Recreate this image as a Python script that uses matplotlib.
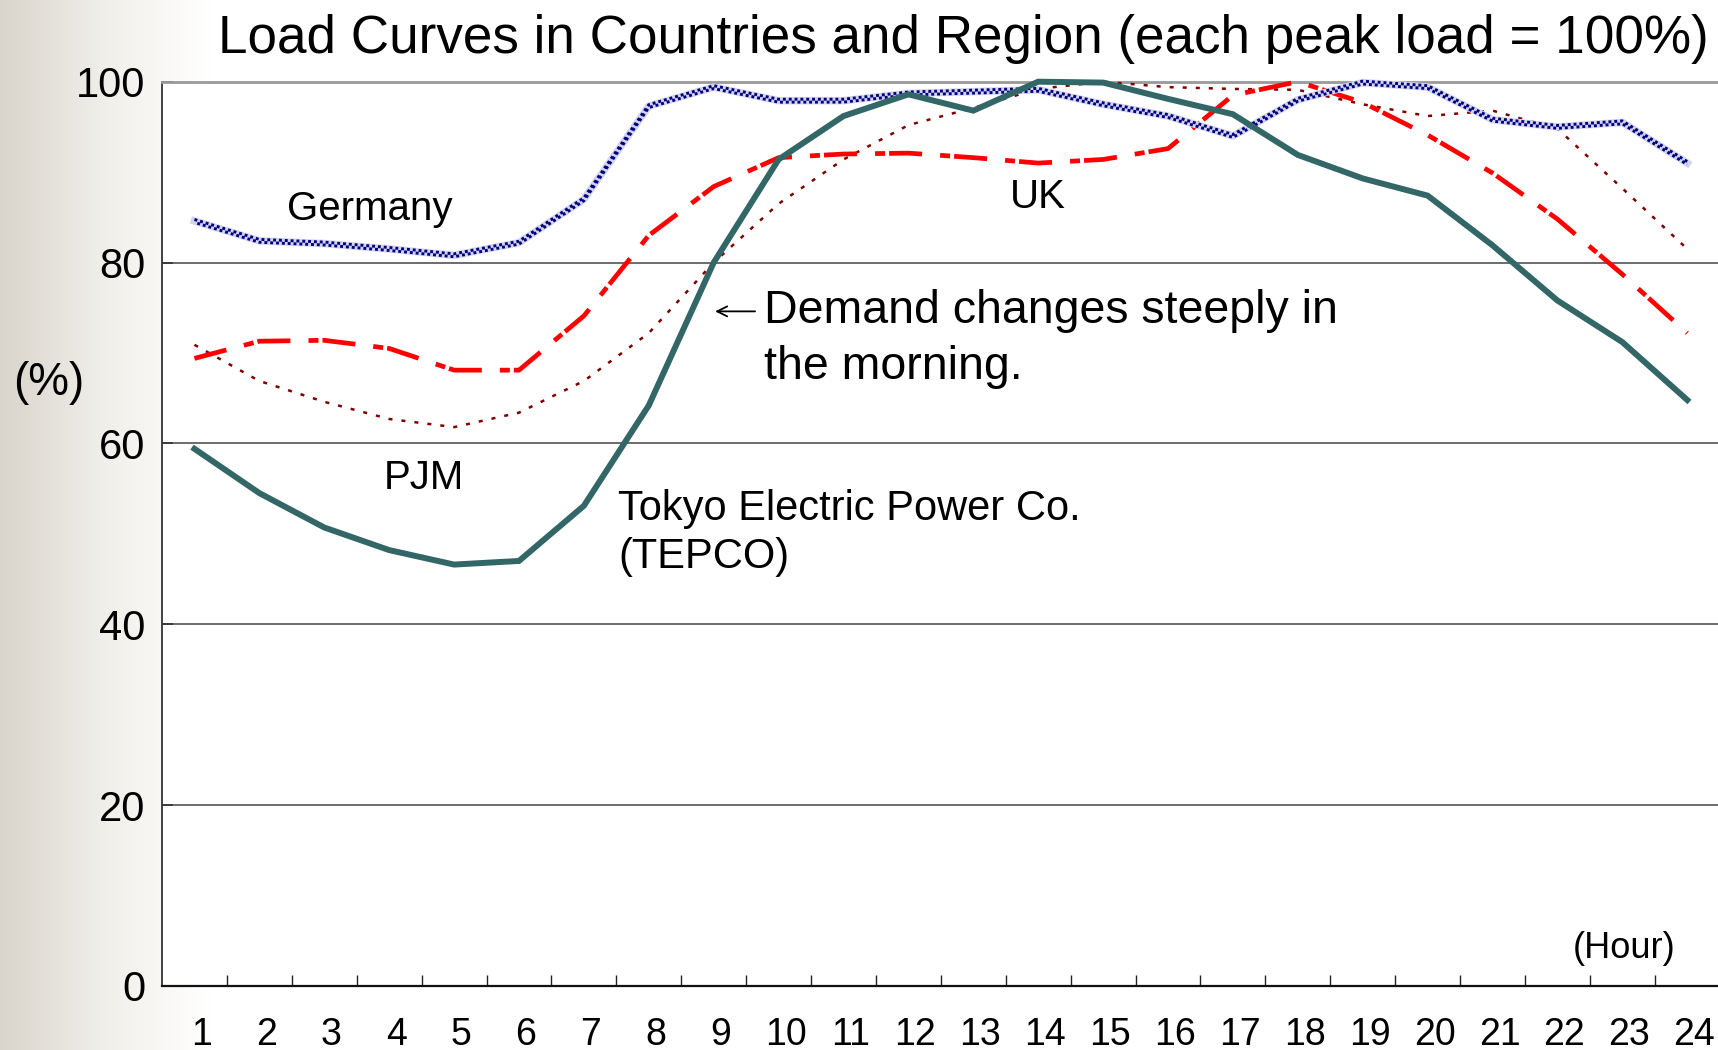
import numpy as np
import matplotlib
matplotlib.use("Agg")
import matplotlib.pyplot as plt
from matplotlib.colors import LinearSegmentedColormap
from matplotlib.transforms import offset_copy, ScaledTranslation

plt.rcParams['font.family'] = ['Liberation Sans', 'DejaVu Sans']
plt.rcParams['lines.scale_dashes'] = False

# data (% of each peak load)
hours = list(range(1, 25))
tepco = [59.4, 54.5, 50.7, 48.2, 46.6, 47.0, 53.1, 64.2, 80.0, 91.4, 96.2, 98.6,
         96.8, 100.0, 99.9, 98.1, 96.4, 91.9, 89.3, 87.4, 81.9, 75.8, 71.2, 64.8]
germany = [84.6, 82.4, 82.1, 81.5, 80.8, 82.2, 87.0, 97.3, 99.4, 97.9, 97.9, 98.7,
           98.9, 99.1, 97.5, 96.2, 94.0, 98.0, 99.9, 99.4, 95.8, 95.0, 95.5, 91.0]
uk = [69.4, 71.3, 71.4, 70.5, 68.1, 68.1, 74.1, 83.0, 88.4, 91.6, 92.0, 92.1,
      91.6, 91.0, 91.4, 92.6, 98.5, 100.0, 97.7, 94.1, 89.9, 84.8, 78.7, 72.2]
pjm = [70.9, 66.9, 64.6, 62.7, 61.8, 63.4, 66.9, 72.2, 80.0, 86.5, 91.4, 95.2,
       97.1, 99.2, 100.0, 99.4, 99.2, 99.1, 97.5, 96.2, 96.8, 94.8, 88.2, 81.5]
y_ticks = [0, 20, 40, 60, 80, 100]

fig = plt.figure(figsize=(17.18, 10.5), dpi=100)

# beige gradient on the left edge of the slide
bg = fig.add_axes([0, 0, 1, 1], zorder=-5)
bg.axis('off')
grad = np.linspace(0, 1, 400).reshape(1, -1)
cmap = LinearSegmentedColormap.from_list('bg', ['#d9d5cc', '#f1efea', '#ffffff'])
bg.imshow(grad, extent=[0, 0.122, 0, 1], aspect='auto', cmap=cmap)
bg.set_xlim(0, 1)
bg.set_ylim(0, 1)

ax = fig.add_axes([0.0943, 0.061, 0.9067, 0.8612])
ax.set_xlim(0.5, 24.5)
ax.set_ylim(0, 100)
ax.set_facecolor('white')

# grid lines
for v in y_ticks[1:-1]:
    ax.axhline(v, color='#444444', lw=1.1, zorder=1)
ax.spines['top'].set_color('#999999')
ax.spines['top'].set_linewidth(2)
ax.spines['right'].set_visible(False)
ax.spines['left'].set_color('#333333')
ax.spines['left'].set_linewidth(1.3)
ax.spines['bottom'].set_color('#111111')
ax.spines['bottom'].set_linewidth(1.6)

# PJM - dotted dark red
ax.plot(hours, pjm, color='#800000', lw=1.8, linestyle=(0, (2.9, 6.5)),
        zorder=3, clip_on=False)
# UK - red dash dot
ax.plot(hours, uk, color='#ff0000', lw=3.4, linestyle=(0, (23.8, 13, 7.2, 2.9)),
        zorder=4, clip_on=False)
# Germany - checkered navy band
ax.plot(hours, germany, color='#d4d4ec', lw=5.4, zorder=5, clip_on=False)
sq = 2.1
for dy, off in [(1.05, 0), (-1.05, sq)]:
    tr = offset_copy(ax.transData, fig=fig, x=0, y=dy, units='points')
    ax.plot(hours, germany, color='#000080', lw=sq, linestyle=(off, (sq, sq)),
            transform=tr, zorder=6, clip_on=False)
# TEPCO - solid teal
ax.plot(hours, tepco, color='#336666', lw=4.3, zorder=7, clip_on=False,
        solid_joinstyle='miter')

# axis ticks
ax.set_yticks(y_ticks)
ax.tick_params(axis='y', direction='in', length=8, width=1.2, color='#333333',
               labelsize=30, pad=12)
ax.set_xticks(hours)
ax.set_xticks(np.arange(1.5, 24, 1), minor=True)
ax.tick_params(axis='x', which='major', length=0, pad=22)
ax.tick_params(axis='x', which='minor', direction='in', length=8, width=1.0,
               color='#222222')
shift = ScaledTranslation(7 / 100, 0, fig.dpi_scale_trans)
for lab in ax.get_xticklabels():
    lab.set_fontfamily(['Liberation Sans Narrow', 'Liberation Sans'])
    lab.set_fontsize(27)
    lab.set_transform(lab.get_transform() + shift)

# text
fig.text(0.5605, 0.963, 'Load Curves in Countries and Region (each peak load = 100%)',
         ha='center', va='center', fontsize=38.2)
fig.text(0.0285, 0.635, '(%)', ha='center', va='center', fontsize=33)
ax.text(3.70, 85.9, 'Germany', ha='center', va='center', fontsize=29)
ax.text(14.0, 87.3, 'UK', ha='center', va='center', fontsize=29)
ax.text(4.54, 56.2, 'PJM', ha='center', va='center', fontsize=29)
ax.text(7.53, 52.7, 'Tokyo Electric Power Co.', ha='left', va='center', fontsize=30)
ax.text(7.53, 47.4, '(TEPCO)', ha='left', va='center', fontsize=30)
ax.annotate('', xy=(8.98, 74.6), xytext=(9.68, 74.6),
            arrowprops=dict(arrowstyle='->', lw=1.3, color='black', mutation_scale=18))
ax.text(9.78, 74.6, 'Demand changes steeply in', ha='left', va='center', fontsize=33.5)
ax.text(9.78, 68.5, 'the morning.', ha='left', va='center', fontsize=33.5)
ax.text(23.02, 4.1, '(Hour)', ha='center', va='center', fontsize=26,
        fontfamily=['Liberation Sans Narrow', 'Liberation Sans'])

fig.savefig('out.png', dpi=100)
